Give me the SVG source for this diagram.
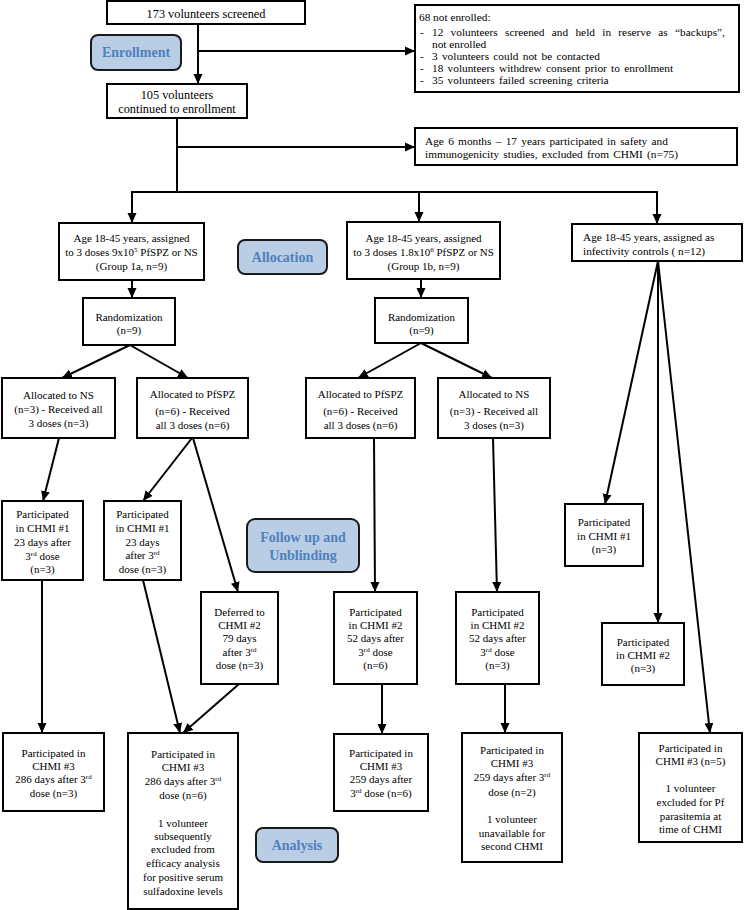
<svg xmlns="http://www.w3.org/2000/svg" width="744" height="910" viewBox="0 0 744 910">
<defs>
<style>
.b{fill:#fff;stroke:#000;stroke-width:2}
.lb{fill:#b9cde5;stroke:#1a1a1a;stroke-width:2}
text{font-family:'Liberation Serif','DejaVu Serif',serif}
.t{font-size:11px;fill:#000;text-anchor:middle}
.tl{font-size:11.3px;fill:#000}
.big{font-size:12.3px}
.lab{font-size:14px;font-weight:bold;fill:#4f81bd;text-anchor:middle}
.c line{stroke:#000;stroke-width:2;fill:none}
.a{marker-end:url(#ah)}
</style>
<marker id="ah" markerUnits="userSpaceOnUse" markerWidth="10" markerHeight="10" refX="10" refY="5" orient="auto">
<path d="M0,0.5 L10,5 L0,9.5 z" fill="#000"/>
</marker>
</defs>
<rect width="744" height="910" fill="#fff"/>

<g class="c" id="connectors">
<line class="a" x1="198" y1="24" x2="198" y2="84"/>
<line class="a" x1="198" y1="51" x2="415" y2="51"/>
<line x1="177" y1="118" x2="177" y2="192"/>
<line class="a" x1="177" y1="147" x2="415" y2="147"/>
<line x1="131" y1="192" x2="658" y2="192"/>
<line class="a" x1="132" y1="192" x2="132" y2="223"/>
<line class="a" x1="419" y1="192" x2="419" y2="222"/>
<line class="a" x1="657" y1="192" x2="657" y2="224"/>
<line class="a" x1="132" y1="280" x2="132" y2="298"/>
<line class="a" x1="421" y1="279" x2="421" y2="298"/>
<line class="a" x1="130" y1="345" x2="62" y2="378"/>
<line class="a" x1="130" y1="345" x2="188" y2="378"/>
<line class="a" x1="421" y1="343" x2="358" y2="378"/>
<line class="a" x1="421" y1="343" x2="492" y2="378"/>
<line class="a" x1="59" y1="438" x2="43" y2="501"/>
<line class="a" x1="192" y1="438" x2="143" y2="501"/>
<line class="a" x1="193" y1="438" x2="238" y2="592"/>
<line class="a" x1="374" y1="438" x2="375" y2="592"/>
<line class="a" x1="493" y1="438" x2="497" y2="592"/>
<line class="a" x1="658" y1="261" x2="605" y2="504"/>
<line class="a" x1="658" y1="261" x2="658" y2="623"/>
<line class="a" x1="658" y1="261" x2="710" y2="733"/>
<line class="a" x1="42" y1="580" x2="42" y2="733"/>
<line class="a" x1="143" y1="580" x2="180" y2="733"/>
<line class="a" x1="239" y1="684" x2="183" y2="733"/>
<line class="a" x1="382" y1="684" x2="382" y2="734"/>
<line class="a" x1="505" y1="684" x2="505" y2="733"/>
</g>

<g font-family="'Liberation Serif', 'DejaVu Serif', serif">
<g id="lab-enrollment"><rect class="lb" x="91" y="35" width="90" height="35" rx="7"/><text class="lab" x="136" y="57">Enrollment</text></g>
<g id="lab-allocation"><rect class="lb" x="238" y="240" width="89" height="34" rx="7"/><text class="lab" x="282.5" y="262">Allocation</text></g>
<g id="lab-followup"><rect class="lb" x="247" y="519" width="112" height="53" rx="8"/><text class="lab" x="303" y="542">Follow up and</text><text class="lab" x="303" y="560">Unblinding</text></g>
<g id="lab-analysis"><rect class="lb" x="256" y="828" width="82" height="34" rx="7"/><text class="lab" x="297" y="850">Analysis</text></g>

<g id="screened"><rect class="b" x="107" y="1" width="198" height="23"/><text class="t big" x="206" y="18">173 volunteers screened</text></g>

<g id="notenrolled"><rect class="b" x="415" y="5" width="324" height="87"/>
<text class="tl" x="419" y="21">68 not enrolled:</text>
<text class="tl" x="420" y="36">-</text><text class="tl" x="432" y="36" word-spacing="4.5">12 volunteers screened and held in reserve as “backups”,</text>
<text class="tl" x="432" y="48">not enrolled</text>
<text class="tl" x="420" y="60">-</text><text class="tl" x="432" y="60" word-spacing="1.5">3 volunteers could not be contacted</text>
<text class="tl" x="420" y="72">-</text><text class="tl" x="432" y="72" word-spacing="1.5">18 volunteers withdrew consent prior to enrollment</text>
<text class="tl" x="420" y="84">-</text><text class="tl" x="432" y="84" word-spacing="1.5">35 volunteers failed screening criteria</text>
</g>

<g id="enrolled"><rect class="b" x="107" y="84" width="140" height="34"/><text class="t big" x="177" y="99">105 volunteers</text><text class="t big" x="177" y="113">continued to enrollment</text></g>

<g id="age6"><rect class="b" x="415" y="128" width="322" height="37"/>
<text class="tl" x="425" y="145" font-size="11" word-spacing="1.5">Age 6 months – 17 years participated in safety and</text>
<text class="tl" x="425" y="158" font-size="11" word-spacing="1.5">immunogenicity studies, excluded from CHMI (n=75)</text></g>

<g id="group1a"><rect class="b" x="59" y="223" width="145" height="57"/>
<text class="t" x="131.5" y="242">Age 18-45 years, assigned</text>
<text class="t" x="131.5" y="256">to 3 doses 9x10<tspan dy="-4" font-size="7">5</tspan><tspan dy="4"> PfSPZ or NS</tspan></text>
<text class="t" x="131.5" y="270">(Group 1a, n=9)</text></g>

<g id="group1b"><rect class="b" x="347" y="222" width="153" height="57"/>
<text class="t" x="423.5" y="242">Age 18-45 years, assigned</text>
<text class="t" x="423.5" y="256">to 3 doses 1.8x10<tspan dy="-4" font-size="7">6</tspan><tspan dy="4"> PfSPZ or NS</tspan></text>
<text class="t" x="423.5" y="270">(Group 1b, n=9)</text></g>

<g id="controls"><rect class="b" x="572" y="224" width="170" height="37"/>
<text class="tl" x="583" y="241" font-size="11">Age 18-45 years, assigned as</text>
<text class="tl" x="583" y="255" font-size="11">infectivity controls ( n=12)</text></g>

<g id="rand1"><rect class="b" x="83" y="298" width="92" height="47"/><text class="t" x="129" y="321">Randomization</text><text class="t" x="129" y="334">(n=9)</text></g>
<g id="rand2"><rect class="b" x="375" y="298" width="93" height="45"/><text class="t" x="421.5" y="321">Randomization</text><text class="t" x="421.5" y="334">(n=9)</text></g>

<g id="ns1"><rect class="b" x="2" y="378" width="113" height="60"/>
<text class="t" x="58.5" y="399">Allocated to NS</text><text class="t" x="58.5" y="413">(n=3) - Received all</text><text class="t" x="58.5" y="427">3 doses (n=3)</text></g>
<g id="pf1"><rect class="b" x="137" y="378" width="111" height="60"/>
<text class="t" x="192.5" y="398">Allocated to PfSPZ</text><text class="t" x="192.5" y="415">(n=6) - Received</text><text class="t" x="192.5" y="429">all 3 doses (n=6)</text></g>
<g id="pf2"><rect class="b" x="306" y="378" width="109" height="60"/>
<text class="t" x="360.5" y="398">Allocated to PfSPZ</text><text class="t" x="360.5" y="415">(n=6) - Received</text><text class="t" x="360.5" y="429">all 3 doses (n=6)</text></g>
<g id="ns2"><rect class="b" x="438" y="378" width="112" height="60"/>
<text class="t" x="494" y="398">Allocated to NS</text><text class="t" x="494" y="415">(n=3) - Received all</text><text class="t" x="494" y="429">3 doses (n=3)</text></g>

<g id="chmi1a"><rect class="b" x="2" y="501" width="81" height="79"/>
<text class="t" x="42.5" y="518">Participated</text><text class="t" x="42.5" y="532">in CHMI #1</text><text class="t" x="42.5" y="546">23 days after</text>
<text class="t" x="42.5" y="560">3<tspan dy="-4" font-size="7">rd</tspan><tspan dy="4"> dose</tspan></text><text class="t" x="42.5" y="573">(n=3)</text></g>
<g id="chmi1b"><rect class="b" x="104" y="501" width="77" height="79"/>
<text class="t" x="142.5" y="518">Participated</text><text class="t" x="142.5" y="532">in CHMI #1</text><text class="t" x="142.5" y="546">23 days</text>
<text class="t" x="142.5" y="559">after 3<tspan dy="-4" font-size="7">rd</tspan></text><text class="t" x="142.5" y="573">dose  (n=3)</text></g>

<g id="deferred"><rect class="b" x="201" y="592" width="77" height="92"/>
<text class="t" x="239.5" y="616">Deferred to</text><text class="t" x="239.5" y="629">CHMI #2</text><text class="t" x="239.5" y="642">79 days</text>
<text class="t" x="239.5" y="656">after 3<tspan dy="-4" font-size="7">rd</tspan></text><text class="t" x="239.5" y="669">dose  (n=3)</text></g>

<g id="chmi2mid"><rect class="b" x="334" y="592" width="83" height="92"/>
<text class="t" x="375.5" y="616">Participated</text><text class="t" x="375.5" y="629">in CHMI #2</text><text class="t" x="375.5" y="642">52 days after</text>
<text class="t" x="375.5" y="656">3<tspan dy="-4" font-size="7">rd</tspan><tspan dy="4"> dose</tspan></text><text class="t" x="375.5" y="669">(n=6)</text></g>
<g id="chmi2right"><rect class="b" x="456" y="592" width="83" height="92"/>
<text class="t" x="497.5" y="616">Participated</text><text class="t" x="497.5" y="629">in CHMI #2</text><text class="t" x="497.5" y="642">52 days after</text>
<text class="t" x="497.5" y="656">3<tspan dy="-4" font-size="7">rd</tspan><tspan dy="4"> dose</tspan></text><text class="t" x="497.5" y="669">(n=3)</text></g>

<g id="ctrl1"><rect class="b" x="565" y="504" width="78" height="62"/>
<text class="t" x="604" y="526">Participated</text><text class="t" x="604" y="540">in CHMI #1</text><text class="t" x="604" y="553">(n=3)</text></g>
<g id="ctrl2"><rect class="b" x="602" y="623" width="82" height="62"/>
<text class="t" x="643" y="646">Participated</text><text class="t" x="643" y="659">in CHMI #2</text><text class="t" x="643" y="672">(n=3)</text></g>

<g id="chmi3a"><rect class="b" x="3" y="733" width="101" height="78"/>
<text class="t" x="53.5" y="757">Participated in</text><text class="t" x="53.5" y="770">CHMI #3</text>
<text class="t" x="53.5" y="783">286 days after 3<tspan dy="-4" font-size="7">rd</tspan></text><text class="t" x="53.5" y="797">dose (n=3)</text></g>
<g id="chmi3b"><rect class="b" x="128" y="733" width="110" height="176"/>
<text class="t" x="183" y="758">Participated in</text><text class="t" x="183" y="771">CHMI #3</text>
<text class="t" x="183" y="785">286 days after 3<tspan dy="-4" font-size="7">rd</tspan></text><text class="t" x="183" y="799">dose (n=6)</text>
<text class="t" x="183" y="827">1 volunteer</text><text class="t" x="183" y="840">subsequently</text><text class="t" x="183" y="853">excluded from</text>
<text class="t" x="183" y="867">efficacy analysis</text><text class="t" x="183" y="881">for positive serum</text><text class="t" x="183" y="895">sulfadoxine levels</text></g>
<g id="chmi3mid"><rect class="b" x="334" y="734" width="94" height="77"/>
<text class="t" x="381" y="757">Participated in</text><text class="t" x="381" y="770">CHMI #3</text>
<text class="t" x="381" y="783">259 days after</text><text class="t" x="381" y="797">3<tspan dy="-4" font-size="7">rd</tspan><tspan dy="4"> dose  (n=6)</tspan></text></g>
<g id="chmi3right"><rect class="b" x="462" y="733" width="100" height="129"/>
<text class="t" x="512" y="754">Participated in</text><text class="t" x="512" y="767">CHMI #3</text>
<text class="t" x="512" y="781">259 days after 3<tspan dy="-4" font-size="7">rd</tspan></text><text class="t" x="512" y="796">dose (n=2)</text>
<text class="t" x="512" y="823">1 volunteer</text><text class="t" x="512" y="837">unavailable for</text><text class="t" x="512" y="850">second CHMI</text></g>
<g id="ctrl3"><rect class="b" x="639" y="733" width="103" height="109"/>
<text class="t" x="690.5" y="752">Participated in</text><text class="t" x="690.5" y="765">CHMI #3 (n=5)</text>
<text class="t" x="690.5" y="792">1 volunteer</text><text class="t" x="690.5" y="806">excluded for Pf</text><text class="t" x="690.5" y="820">parasitemia at</text><text class="t" x="690.5" y="833">time of CHMI</text></g>
</g>
</svg>
